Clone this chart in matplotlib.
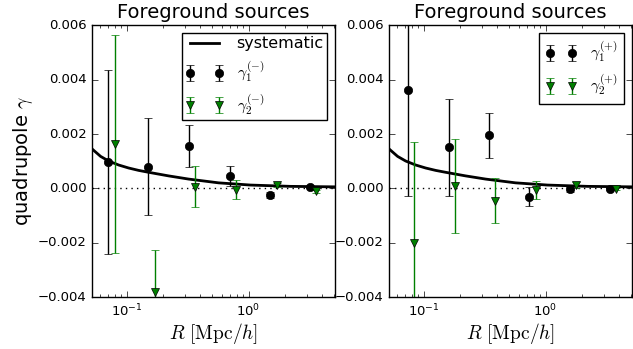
import matplotlib
matplotlib.use('Agg')
import matplotlib.pyplot as plt

# bin centres (Mpc/h) and quadrupole values
r1_minus = [0.0704, 0.151, 0.322, 0.699, 1.49, 3.18]
g1_minus = [0.00096, 0.00080, 0.00157, 0.00046, -0.00024, 0.00006]
e1_minus = [0.00338, 0.00178, 0.00077, 0.00037, 0.00012, 0.00004]

r2_minus = [0.0797, 0.171, 0.366, 0.783, 1.70, 3.60]
g2_minus = [0.00163, -0.00379, 0.00006, -0.00004, 0.00012, -0.00010]
e2_minus = [0.00400, 0.00153, 0.00075, 0.00035, 0.00008, 0.00005]

r1_plus = [0.075, 0.161, 0.346, 0.735, 1.59, 3.39]
g1_plus = [0.00361, 0.00151, 0.00196, -0.00030, -0.00003, -0.00002]
e1_plus = [0.00388, 0.00177, 0.00083, 0.00035, 0.00010, 0.00004]

r2_plus = [0.084, 0.181, 0.387, 0.834, 1.77, 3.78]
g2_plus = [-0.00199, 0.00009, -0.00045, -0.00005, 0.00012, -0.00002]
e2_plus = [0.00370, 0.00172, 0.00083, 0.00033, 0.00012, 0.00004]

# systematic model curve, sampled from the figure
r_sys = [0.0526, 0.0612, 0.0712, 0.0860, 0.1038, 0.1254, 0.1514, 0.2208,
         0.322, 0.568, 1.038, 2.21, 5.16]
g_sys = [0.001435, 0.001178, 0.001009, 0.000862, 0.000752, 0.000664, 0.000594,
         0.000462, 0.000345, 0.000206, 0.000125, 0.000077, 0.000059]

plt.style.use('classic')
fig = plt.figure(figsize=(6.33, 3.49), dpi=100)
ax1 = fig.add_axes([0.1453, 0.148, 0.3837, 0.780])
ax2 = fig.add_axes([0.6145, 0.148, 0.3837, 0.780])

panels = [
    (ax1, r1_minus, g1_minus, e1_minus, r2_minus, g2_minus, e2_minus, '-', True),
    (ax2, r1_plus, g1_plus, e1_plus, r2_plus, g2_plus, e2_plus, '+', False),
]

for ax, ra, ga, ea, rb, gb, eb, sign, show_sys in panels:
    ax.plot(r_sys, g_sys, color='k', lw=2, label='systematic')
    ax.axhline(0, color='k', ls=':', lw=1)
    ax.errorbar(ra, ga, yerr=ea, fmt='o', color='k', ms=6, capsize=3,
                label=r'$\gamma_1^{(%s)}$' % sign)
    ax.errorbar(rb, gb, yerr=eb, fmt='v', color='g', ms=6, capsize=3,
                label=r'$\gamma_2^{(%s)}$' % sign)
    ax.set_xscale('log')
    ax.set_xlim(0.052, 5.1)
    ax.set_ylim(-0.004, 0.006)
    ax.set_yticks([-0.004, -0.002, 0.0, 0.002, 0.004, 0.006])
    ax.tick_params(labelsize=9.5)
    ax.set_title('Foreground sources', fontsize=14)
    ax.set_xlabel(r'$R\ [\mathrm{Mpc}/h]$', fontsize=14, labelpad=1)
    handles, labels = ax.get_legend_handles_labels()
    if show_sys:
        ax.legend(handles, labels, loc='upper right', fontsize=11.5,
                  numpoints=2, borderpad=0.2, handlelength=2.4)
    else:
        ax.legend(handles[1:], labels[1:], loc='upper right', fontsize=11.5,
                  numpoints=2, borderpad=0.4)

ax1.set_ylabel(r'quadrupole $\gamma$', fontsize=14, labelpad=2)

fig.savefig('out.png', dpi=100, facecolor='white')
plt.close(fig)
